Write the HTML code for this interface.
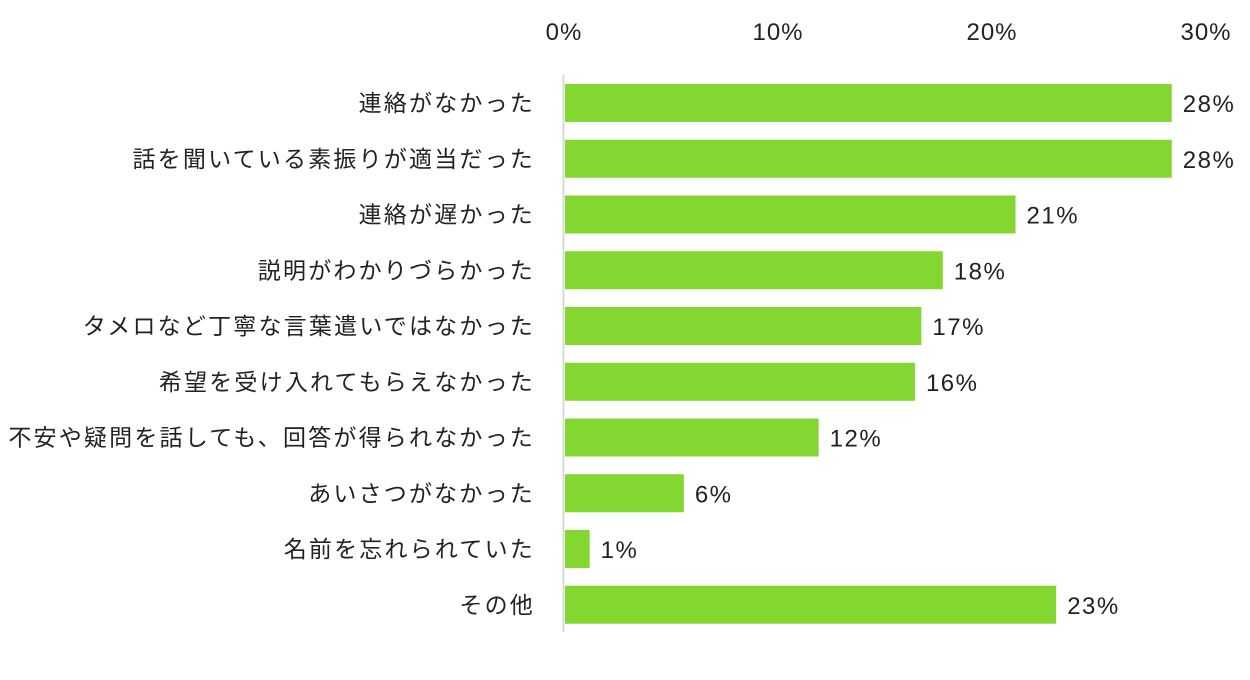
<!DOCTYPE html>
<html><head><meta charset="utf-8">
<style>
html,body{margin:0;padding:0;background:#fff;}
svg text{font-family:"Liberation Sans","Noto Sans CJK JP",sans-serif;fill:#222;}
</style></head>
<body>
<svg id="chart" width="1250" height="675" xmlns="http://www.w3.org/2000/svg"></svg>
<script>
const categories = ["連絡がなかった","話を聞いている素振りが適当だった","連絡が遅かった","説明がわかりづらかった","タメロなど丁寧な言葉遣いではなかった","希望を受け入れてもらえなかった","不安や疑問を話しても、回答が得られなかった","あいさつがなかった","名前を忘れられていた","その他"];
const values = [28.4,28.4,21.1,17.7,16.7,16.4,11.9,5.6,1.2,23.0];
const valueLabels = ["28%","28%","21%","18%","17%","16%","12%","6%","1%","23%"];
const ticks = [0,10,20,30];
const tickLabels = ["0%","10%","20%","30%"];

const svg = document.getElementById('chart');
const NS = 'http://www.w3.org/2000/svg';
const x0 = 564, pxPer = 21.4;
const xScale = v => x0 + v * pxPer;
const yTop = 84, step = 55.75, barH = 38;
const yScale = i => yTop + i * step;
function mk(tag, attrs){const e=document.createElementNS(NS,tag);for(const k in attrs)e.setAttribute(k,attrs[k]);svg.appendChild(e);return e;}

ticks.forEach((t,i)=>{
  const e = mk('text',{x:xScale(t),y:40,'text-anchor':'middle','font-size':24,'letter-spacing':1});
  e.textContent = tickLabels[i];
  
  
});
const ax = mk('line',{x1:563.5,y1:75,x2:563.5,y2:632,stroke:'#d9d9d9','stroke-width':2});



categories.forEach((c,i)=>{
  const y = yScale(i);
  const r = mk('rect',{x:x0+1,y:y,width:Math.max(0,xScale(values[i])-x0-1),height:barH,fill:'#84d631'});
  
  
  const l = mk('text',{x:535,y:y+barH/2+8,'text-anchor':'end','font-size':23,'letter-spacing':2.2});
  l.textContent = c;
  
  
  const v = mk('text',{x:xScale(values[i])+11,y:y+barH/2+9,'font-size':24,'letter-spacing':1.5});
  v.textContent = valueLabels[i];
  
  
});
</script>
</body></html>
